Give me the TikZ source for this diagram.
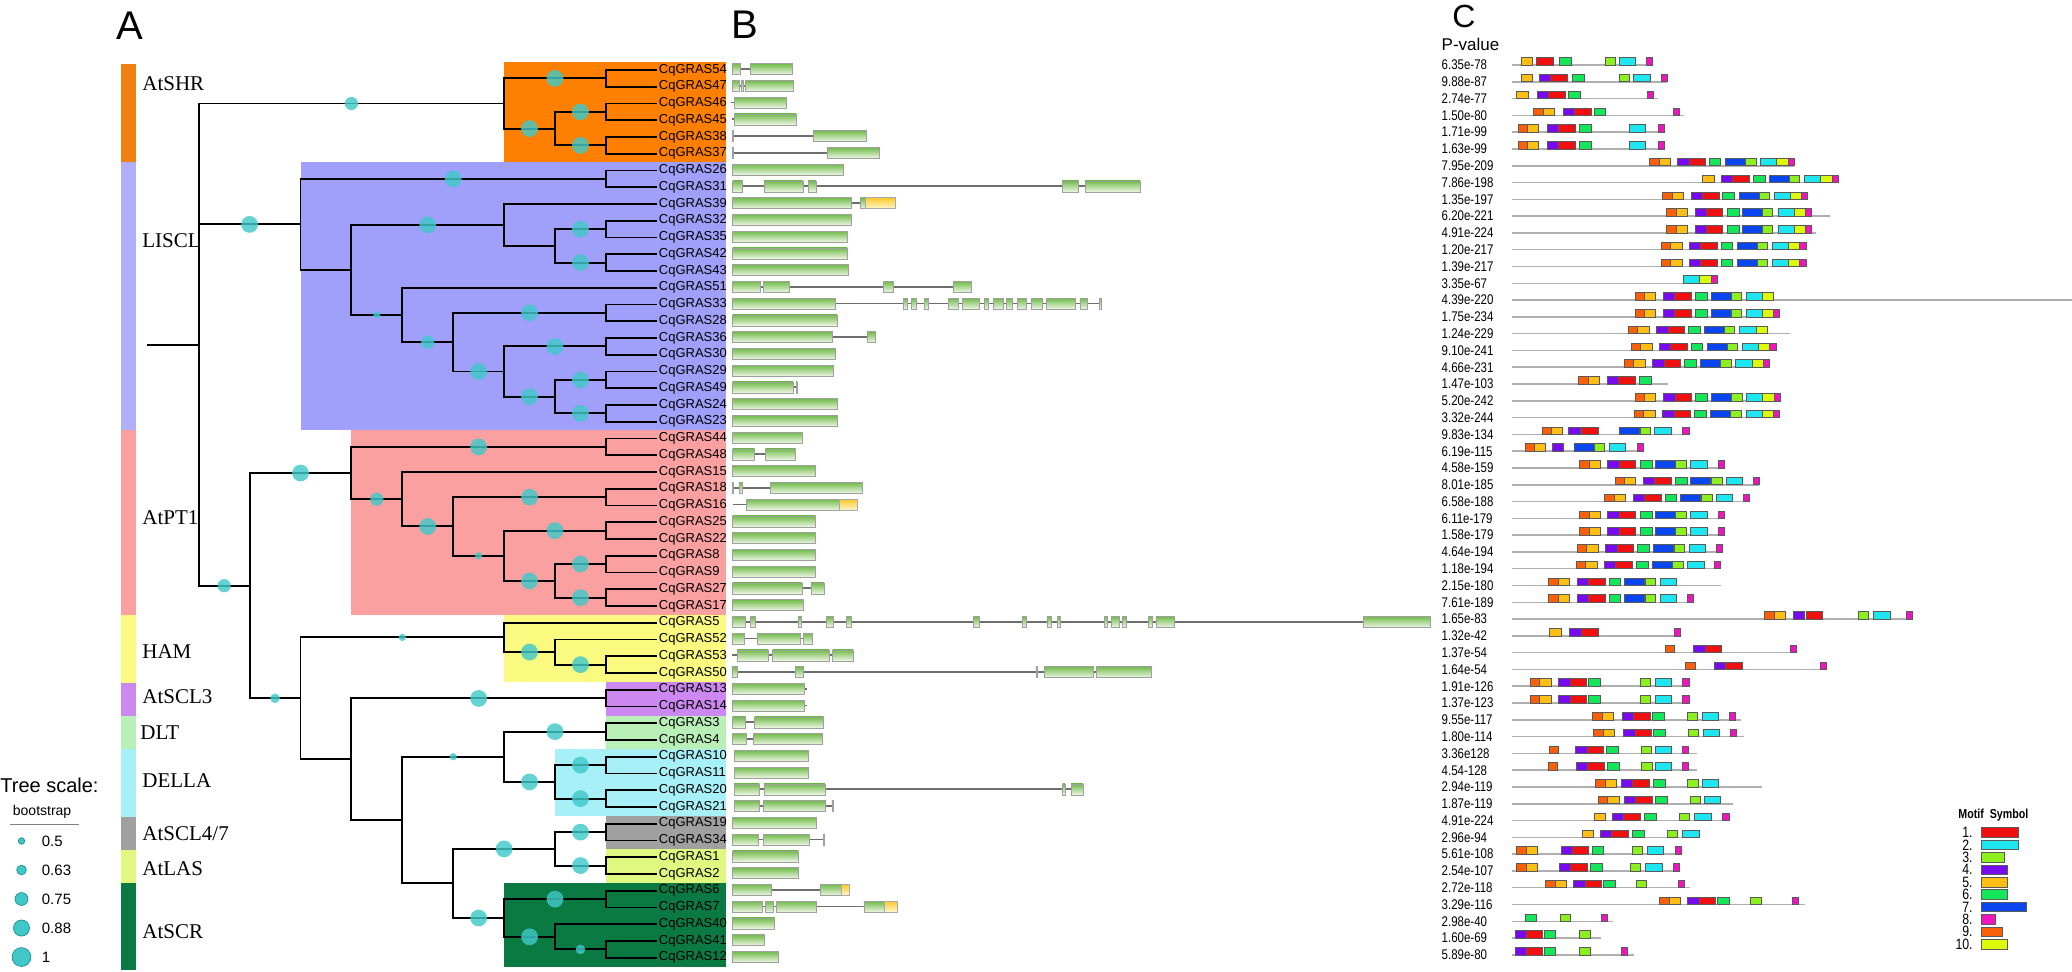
\documentclass[tikz,border=0pt]{standalone}
\usepackage{fontspec}
\setmainfont{Liberation Sans}
\newfontfamily\serifA{Liberation Serif}
\newfontfamily\narrowA[FakeStretch=0.82]{Liberation Sans}
\usetikzlibrary{calc}
\definecolor{cSHR}{RGB}{255,128,0}
\definecolor{cSHRbar}{RGB}{240,128,16}
\definecolor{cLIS}{RGB}{160,160,250}
\definecolor{cLISbar}{RGB}{176,176,250}
\definecolor{cPT}{RGB}{250,160,160}
\definecolor{cHAM}{RGB}{250,250,128}
\definecolor{cSCLt}{RGB}{204,136,240}
\definecolor{cDLT}{RGB}{184,240,184}
\definecolor{cDEL}{RGB}{168,240,248}
\definecolor{cSCLf}{RGB}{160,160,160}
\definecolor{cLAS}{RGB}{224,248,128}
\definecolor{cSCR}{RGB}{10,122,66}
\definecolor{bootc}{RGB}{64,200,200}
\definecolor{bootd}{RGB}{40,150,150}
\definecolor{exg}{RGB}{112,186,72}
\definecolor{exw}{RGB}{236,246,228}
\definecolor{uty}{RGB}{255,200,40}
\definecolor{utw}{RGB}{255,246,205}
\definecolor{intc}{RGB}{110,110,110}
\definecolor{mlc}{RGB}{175,175,175}
\definecolor{mot1}{RGB}{240,16,16}
\definecolor{mot2}{RGB}{30,230,240}
\definecolor{mot3}{RGB}{140,240,30}
\definecolor{mot4}{RGB}{120,10,240}
\definecolor{mot5}{RGB}{255,190,20}
\definecolor{mot6}{RGB}{20,230,90}
\definecolor{mot7}{RGB}{10,70,240}
\definecolor{mot8}{RGB}{240,20,190}
\definecolor{mot9}{RGB}{250,95,10}
\definecolor{mot10}{RGB}{220,250,10}
\newcommand\lv[1]{(198.7+50.9*#1)}
\newcommand\ed[2]{\draw[tree] (#1) |- (#2);}
\newcommand\bsc[3]{\fill[boot] ($(#1 |- #2)!0.5!(#2)$) circle (#3);}
\newcommand\gl[3]{\draw[intron] (#2,{70+16.75*#1-1}) -- (#3,{70+16.75*#1-1});}
\newcommand\exs[2]{\foreach \a/\b in {#2}{\path[exon] (\a,{70+16.75*#1-6.5}) rectangle (\b,{70+16.75*#1+4.5});}}
\newcommand\uts[2]{\foreach \a/\b in {#2}{\path[utr] (\a,{70+16.75*#1-6.5}) rectangle (\b,{70+16.75*#1+4.5});}}
\newcommand\mrow[3]{\draw[mline] (280,{65+16.79*#1}) -- (#2,{65+16.79*#1});
 \foreach \m/\s in {#3}{\pgfmathtruncatemacro\k{\m-1}\pgfmathsetmacro\w{{38,38,24,26,26,27,46,14,22,26}[\k]}%
 \path[mbox,fill=mot\m] (\s,{65+16.79*#1-7.5}) rectangle ({\s+\w},{65+16.79*#1});}}
\begin{document}
\begin{tikzpicture}[x=0.5pt,y=-0.5pt,
  tree/.style={line width=0.95pt,black},
  boot/.style={bootc,opacity=0.82},
  glab/.style={anchor=west,inner sep=0pt,font=\fontsize{6.5}{7}\selectfont},
  clab/.style={anchor=west,inner sep=0pt,font=\serifA\fontsize{10.5}{12}\selectfont},
  plet/.style={inner sep=0pt,font=\fontsize{20}{22}\selectfont},
  intron/.style={intc,line width=0.9pt},
  exon/.style={top color=exg,bottom color=exw,draw={rgb,255:red,160;green,160;blue,160},line width=0.25pt},
  utr/.style={top color=uty,bottom color=utw,draw={rgb,255:red,170;green,170;blue,170},line width=0.25pt},
  mline/.style={mlc,line width=0.75pt},
  mbox/.style={draw={rgb,255:red,90;green,90;blue,90},line width=0.3pt},
  pval/.style={anchor=west,inner sep=0pt,font=\narrowA\fontsize{7}{8}\selectfont},
  legc/.style={fill=bootc,draw=bootd,line width=0.4pt}]
\useasboundingbox (0,0) rectangle (2072,971);
% ---------- panel letters
\node[plet] (LA) at (130,26) {A};
\node[plet] (LB) at (745,25) {B};
\node[inner sep=0pt,font=\fontsize{16}{18}\selectfont] (LC) at (1464,16) {C};
% ---------- clade backgrounds
\fill[cSHR] (503.6,61.7) rectangle (726,162.3);
\fill[cLIS] (300.5,162.3) rectangle (726,430);
\fill[cPT] (351.4,430) rectangle (726,615);
\fill[cHAM] (503.6,615) rectangle (726,682.3);
\fill[cSCLt] (605.9,682.3) rectangle (726,716);
\fill[cDLT] (605.9,716) rectangle (726,749.3);
\fill[cDEL] (555,749.3) rectangle (726,816);
\fill[cSCLf] (605.9,816) rectangle (726,849.3);
\fill[cLAS] (605.9,849.3) rectangle (726,883.3);
\fill[cSCR] (503.6,883.3) rectangle (726,966.7);
% ---------- left bar
\fill[cSHRbar] (121.4,64.3) rectangle (136.2,162.3);
\fill[cLISbar] (121.4,162.3) rectangle (136.2,430);
\fill[cPT] (121.4,430) rectangle (136.2,615);
\fill[cHAM] (121.4,615) rectangle (136.2,683);
\fill[cSCLt] (121.4,683) rectangle (136.2,716);
\fill[cDLT] (121.4,716) rectangle (136.2,749.3);
\fill[cDEL] (121.4,749.3) rectangle (136.2,816.5);
\fill[cSCLf] (121.4,816.5) rectangle (136.2,849.5);
\fill[cLAS] (121.4,849.5) rectangle (136.2,883);
\fill[cSCR] (121.4,883) rectangle (136.2,970);
\node[clab] (kSHR) at (142,84) {AtSHR};
\node[clab] (kLIS) at (142,240.7) {LISCL};
\node[clab] (kPT) at (142,517.7) {AtPT1};
\node[clab] (kHAM) at (142,651.7) {HAM};
\node[clab] (kSCL3) at (142,697) {AtSCL3};
\node[clab] (kDLT) at (140,732.7) {DLT};
\node[clab] (kDEL) at (142,781) {DELLA};
\node[clab] (kSCL47) at (142,834) {AtSCL4/7};
\node[clab] (kLAS) at (142,869) {AtLAS};
\node[clab] (kSCR) at (142,932) {AtSCR};
% ---------- tree coordinates
\coordinate (rs) at (147,344.6);
\coordinate (r) at ({\lv{0}},344.6);
\coordinate (SHR) at ({\lv{6}},103.5);
\coordinate (s1) at ({\lv{8}},78.4);
\coordinate (s2) at ({\lv{7}},128.6);
\coordinate (s3) at ({\lv{8}},111.9);
\coordinate (s4) at ({\lv{8}},145.4);
\coordinate (LIS) at ({\lv{2}},224.4);
\coordinate (l1) at ({\lv{8}},178.9);
\coordinate (l2) at ({\lv{3}},270);
\coordinate (l3) at ({\lv{6}},224.9);
\coordinate (l45) at ({\lv{7}},245.9);
\coordinate (l4) at ({\lv{8}},229.1);
\coordinate (l5) at ({\lv{8}},262.6);
\coordinate (l6) at ({\lv{4}},315);
\coordinate (l7) at ({\lv{5}},342.2);
\coordinate (l8) at ({\lv{8}},312.9);
\coordinate (l9) at ({\lv{6}},371.5);
\coordinate (l10) at ({\lv{8}},346.4);
\coordinate (l11) at ({\lv{7}},396.6);
\coordinate (l12) at ({\lv{8}},379.9);
\coordinate (l13) at ({\lv{8}},413.4);
\coordinate (B1) at ({\lv{1}},585.7);
\coordinate (P) at ({\lv{3}},473);
\coordinate (p1) at ({\lv{8}},446.9);
\coordinate (p2) at ({\lv{4}},499.2);
\coordinate (p3) at ({\lv{5}},526.4);
\coordinate (p4) at ({\lv{8}},497.1);
\coordinate (p5) at ({\lv{6}},555.75);
\coordinate (p6) at ({\lv{8}},530.6);
\coordinate (p7) at ({\lv{7}},580.9);
\coordinate (p8) at ({\lv{8}},564.1);
\coordinate (p9) at ({\lv{8}},597.6);
\coordinate (B2) at ({\lv{2}},698.3);
\coordinate (H) at ({\lv{6}},637.4);
\coordinate (h1) at ({\lv{7}},652.1);
\coordinate (h2) at ({\lv{8}},664.6);
\coordinate (C2) at ({\lv{3}},759.2);
\coordinate (c3) at ({\lv{8}},698.4);
\coordinate (C4) at ({\lv{4}},820);
\coordinate (D) at ({\lv{6}},756.7);
\coordinate (d1) at ({\lv{8}},731.6);
\coordinate (d2) at ({\lv{7}},781.9);
\coordinate (d3) at ({\lv{8}},765.1);
\coordinate (d4) at ({\lv{8}},798.6);
\coordinate (E) at ({\lv{5}},883.4);
\coordinate (e1) at ({\lv{7}},848.9);
\coordinate (e11) at ({\lv{8}},832.1);
\coordinate (e12) at ({\lv{8}},865.6);
\coordinate (e2) at ({\lv{6}},918);
\coordinate (e21) at ({\lv{8}},899.1);
\coordinate (e22) at ({\lv{7}},936.8);
\coordinate (e23) at ({\lv{8}},949.4);
\foreach \i in {0,...,53} \coordinate (t\i) at ({\lv{9}},{70+16.75*\i});
% ---------- tree edges
\draw[tree] (rs) -- (r);
\ed{r}{SHR}\ed{r}{LIS}\ed{r}{B1}
\ed{SHR}{s1}\ed{SHR}{s2}\ed{s2}{s3}\ed{s2}{s4}
\ed{s1}{t0}\ed{s1}{t1}\ed{s3}{t2}\ed{s3}{t3}\ed{s4}{t4}\ed{s4}{t5}
\ed{LIS}{l1}\ed{LIS}{l2}\ed{l1}{t6}\ed{l1}{t7}
\ed{l2}{l3}\ed{l2}{l6}\ed{l3}{t8}\ed{l3}{l45}\ed{l45}{l4}\ed{l45}{l5}
\ed{l4}{t9}\ed{l4}{t10}\ed{l5}{t11}\ed{l5}{t12}
\ed{l6}{t13}\ed{l6}{l7}\ed{l7}{l8}\ed{l7}{l9}\ed{l8}{t14}\ed{l8}{t15}
\ed{l9}{l10}\ed{l9}{l11}\ed{l10}{t16}\ed{l10}{t17}\ed{l11}{l12}\ed{l11}{l13}
\ed{l12}{t18}\ed{l12}{t19}\ed{l13}{t20}\ed{l13}{t21}
\ed{B1}{P}\ed{B1}{B2}
\ed{P}{p1}\ed{P}{p2}\ed{p1}{t22}\ed{p1}{t23}\ed{p2}{t24}\ed{p2}{p3}
\ed{p3}{p4}\ed{p3}{p5}\ed{p4}{t25}\ed{p4}{t26}\ed{p5}{p6}\ed{p5}{p7}
\ed{p6}{t27}\ed{p6}{t28}\ed{p7}{p8}\ed{p7}{p9}\ed{p8}{t29}\ed{p8}{t30}\ed{p9}{t31}\ed{p9}{t32}
\ed{B2}{H}\ed{B2}{C2}\ed{H}{t33}\ed{H}{h1}\ed{h1}{t34}\ed{h1}{h2}\ed{h2}{t35}\ed{h2}{t36}
\ed{C2}{c3}\ed{C2}{C4}\ed{c3}{t37}\ed{c3}{t38}
\ed{C4}{D}\ed{C4}{E}\ed{D}{d1}\ed{D}{d2}\ed{d1}{t39}\ed{d1}{t40}\ed{d2}{d3}\ed{d2}{d4}
\ed{d3}{t41}\ed{d3}{t42}\ed{d4}{t43}\ed{d4}{t44}
\ed{E}{e1}\ed{E}{e2}\ed{e1}{e11}\ed{e1}{e12}\ed{e11}{t45}\ed{e11}{t46}\ed{e12}{t47}\ed{e12}{t48}
\ed{e2}{e21}\ed{e2}{e22}\ed{e21}{t49}\ed{e21}{t50}\ed{e22}{t51}\ed{e22}{e23}\ed{e23}{t52}\ed{e23}{t53}
% ---------- bootstrap circles
\def\cB{4.2pt}\def\cM{3.3pt}\def\cSM{2.4pt}\def\cS{1.8pt}
\bsc{r}{SHR}{\cM}\bsc{SHR}{s1}{\cB}\bsc{SHR}{s2}{\cB}\bsc{s2}{s3}{\cB}\bsc{s2}{s4}{\cB}
\bsc{r}{LIS}{\cB}\bsc{LIS}{l1}{\cB}\bsc{l2}{l3}{\cB}\bsc{l45}{l4}{\cB}\bsc{l45}{l5}{\cB}
\bsc{l2}{l6}{\cS}\bsc{l6}{l7}{\cM}\bsc{l7}{l8}{\cB}\bsc{l7}{l9}{\cB}\bsc{l9}{l10}{\cB}
\bsc{l9}{l11}{\cB}\bsc{l11}{l12}{\cB}\bsc{l11}{l13}{\cB}
\bsc{r}{B1}{\cM}\bsc{B1}{P}{\cB}\bsc{P}{p1}{\cB}\bsc{P}{p2}{\cM}\bsc{p2}{p3}{\cB}
\bsc{p3}{p4}{\cB}\bsc{p3}{p5}{\cS}\bsc{p5}{p6}{\cB}\bsc{p5}{p7}{\cB}\bsc{p7}{p8}{\cB}\bsc{p7}{p9}{\cB}
\bsc{B1}{B2}{\cSM}\bsc{B2}{H}{\cS}\bsc{H}{h1}{\cB}\bsc{h1}{h2}{\cB}\bsc{C2}{c3}{\cB}
\bsc{C4}{D}{\cS}\bsc{D}{d1}{\cB}\bsc{D}{d2}{\cB}\bsc{d2}{d3}{\cB}\bsc{d2}{d4}{\cB}
\bsc{E}{e1}{\cB}\bsc{e1}{e11}{\cB}\bsc{e1}{e12}{\cB}\bsc{E}{e2}{\cB}\bsc{e2}{e21}{\cB}
\bsc{e2}{e22}{\cB}\bsc{e22}{e23}{\cSM}
% ---------- gene labels
\foreach \g [count=\i from 0] in {54,47,46,45,38,37,26,31,39,32,35,42,43,51,33,28,36,30,29,49,24,23,44,48,15,18,16,25,22,8,9,27,17,5,52,53,50,13,14,3,4,10,11,20,21,19,34,1,2,6,7,40,41,12}
  \node[glab] (g\i) at ([xshift=0.85pt]t\i) {CqGRAS\g};
% ---------- tree scale legend
\node[anchor=west,inner sep=0pt,font=\fontsize{10}{11}\selectfont] (ts) at (0,785) {Tree scale:};
\node[anchor=west,inner sep=0pt,font=\fontsize{7}{8}\selectfont] (bs) at (12.5,812) {bootstrap};
\draw[gray,line width=0.5pt] (10,824) -- (79,824);
\foreach \v/\rr [count=\j from 0] in {0.5/1.6pt,0.63/2.4pt,0.75/3.2pt,0.88/4pt,1/4.7pt}{
  \fill[legc] (21.5,{841+29*\j}) circle (\rr);
  \node[anchor=west,inner sep=0pt,font=\fontsize{7.5}{8}\selectfont] (lv\j) at (41.5,{841+29*\j}) {\v};}
% ---------- panel B gene structures
\begin{scope}[shift={(680,0)},xscale=0.4464]
\gl{0}{118}{252}\exs{0}{118/135,157/252}
\gl{1}{118}{254}\exs{1}{118/133,137/141,147/254}
\gl{2}{115}{238}\exs{2}{122/238}
\gl{3}{116}{260}\exs{3}{122/260}
\gl{4}{118}{417}\exs{4}{117/120,299/417}
\gl{5}{118}{447}\exs{5}{117/120,329/447}
\exs{6}{118/365}
\gl{7}{118}{1031}\exs{7}{118/140,188/276,287/305,856/893,907/1031}
\gl{8}{118}{482}\exs{8}{118/383,403/415}\uts{8}{415/482}
\exs{9}{118/383}
\exs{10}{118/375}
\exs{11}{118/375}
\exs{12}{118/377}
\gl{13}{118}{652}\exs{13}{118/179,187/244,456/478,611/652}
\gl{14}{118}{942}\exs{14}{118/347,501/509,519/529,548/557,602/624,632/671,681/691,702/723,731/745,756/775,786/811,821/885,896/912,940/943}
\exs{15}{118/352}
\gl{16}{118}{438}\exs{16}{118/340,420/438}
\exs{17}{118/348}
\exs{18}{118/343}
\gl{19}{118}{262}\exs{19}{118/253,260/263}
\exs{20}{118/352}
\exs{21}{118/352}
\exs{22}{118/273}
\gl{23}{118}{259}\exs{23}{118/167,191/259}
\exs{24}{118/304}
\gl{25}{118}{408}\exs{25}{117/120,132/140,202/408}
\gl{26}{118}{396}\exs{26}{148/356}\uts{26}{356/396}
\exs{27}{118/304}
\exs{28}{118/304}
\exs{29}{118/303}
\exs{30}{118/302}
\gl{31}{118}{323}\exs{31}{118/273,293/323}
\exs{32}{118/277}
\gl{33}{116}{1680}\exs{33}{116/147,158/168,264/272,328/344,372/383,658/671,766/775,822/832,846/852,950/957,967/983,991/1000,1050/1058,1066/1108,1530/1680}
\gl{34}{116}{297}\exs{34}{116/143,172/270,277/297}
\gl{35}{116}{388}\exs{35}{128/197,207/334,342/388}
\gl{36}{116}{1055}\exs{36}{116/128,258/276,797/801,816/925,932/1055}
\gl{37}{118}{285}\exs{37}{118/278}
\gl{38}{118}{285}\exs{38}{118/278}
\gl{39}{118}{322}\exs{39}{118/147,167/322}
\gl{40}{118}{318}\exs{40}{118/149,165/318}
\exs{41}{121/287}
\exs{42}{121/288}
\gl{43}{121}{903}\exs{43}{121/178,188/325,857/862,876/903}
\gl{44}{121}{343}\exs{44}{121/178,187/326,340/343}
\exs{45}{118/306}
\gl{46}{118}{324}\exs{46}{118/176,187/289,321/324}
\exs{47}{118/265}
\exs{48}{118/264}
\gl{49}{116}{380}\exs{49}{116/205,315/361}\uts{49}{361/380}
\gl{50}{116}{486}\exs{50}{116/184,191/209,215/306,412/458}\uts{50}{458/486}
\exs{51}{116/212}
\exs{52}{118/188}
\exs{53}{116/221}
\end{scope}
% ---------- panel C motifs
\begin{scope}[shift={(1390,0)},xscale=0.43497]
\node[anchor=west,inner sep=0pt,font=\fontsize{8.5}{9}\selectfont] (pvh) at (118,44) {P-value};
\foreach \p [count=\i from 0] in {6.35e-78,9.88e-87,2.74e-77,1.50e-80,1.71e-99,1.63e-99,7.95e-209,7.86e-198,1.35e-197,6.20e-221,4.91e-224,1.20e-217,1.39e-217,3.35e-67,4.39e-220,1.75e-234,1.24e-229,9.10e-241,4.66e-231,1.47e-103,5.20e-242,3.32e-244,9.83e-134,6.19e-115,4.58e-159,8.01e-185,6.58e-188,6.11e-179,1.58e-179,4.64e-194,1.18e-194,2.15e-180,7.61e-189,1.65e-83,1.32e-42,1.37e-54,1.64e-54,1.91e-126,1.37e-123,9.55e-117,1.80e-114,3.36e128,4.54-128,2.94e-119,1.87e-119,4.91e-224,2.96e-94,5.61e-108,2.54e-107,2.72e-118,3.29e-116,2.98e-40,1.60e-69,5.89e-80}
  \node[pval] (pv\i) at (118,{65+16.79*\i}) {\p};
\mrow{0}{604}{5/302,1/337,6/389,3/494,2/527,8/590}
\mrow{1}{637}{5/302,4/343,1/369,6/419,3/527,2/560,8/623}
\mrow{2}{615}{5/291,4/339,1/365,6/410,8/591}
\mrow{3}{676}{9/330,5/352,4/398,1/424,6/469,8/651}
\mrow{4}{631}{9/294,5/316,4/362,1/388,6/435,2/549,8/616}
\mrow{5}{631}{9/294,5/316,4/362,1/388,6/435,2/549,8/616}
\mrow{6}{929}{9/597,5/619,4/661,1/687,6/733,7/771,3/817,2/852,10/889,8/915}
\mrow{7}{1030}{5/719,4/762,1/788,6/835,7/871,3/917,2/953,10/990,8/1016}
\mrow{8}{960}{9/626,5/648,4/692,1/718,6/765,7/802,3/848,2/883,10/920,8/946}
\mrow{9}{1012}{9/636,5/658,4/701,1/727,6/775,7/810,3/856,2/892,10/929,8/955}
\mrow{10}{980}{9/636,5/658,4/701,1/727,6/775,7/810,3/856,2/892,10/929,8/955}
\mrow{11}{956}{9/623,5/645,4/688,1/714,6/761,7/798,3/844,2/879,10/916,8/942}
\mrow{12}{956}{9/623,5/645,4/688,1/714,6/761,7/798,3/844,2/879,10/916,8/942}
\mrow{13}{752}{2/675,10/712,8/738}
\mrow{14}{1568}{9/563,5/585,4/628,1/654,6/702,7/738,3/784,2/819,10/856}
\mrow{15}{896}{9/563,5/585,4/628,1/654,6/702,7/738,3/784,2/819,10/856,8/882}
\mrow{16}{920}{9/547,5/569,4/613,1/639,6/686,7/722,3/768,2/804,10/841}
\mrow{17}{887}{9/554,5/576,4/619,1/645,6/692,7/729,3/775,2/810,10/847,8/873}
\mrow{18}{872}{9/538,5/560,4/604,1/630,6/677,7/713,3/760,2/794,10/832,8/858}
\mrow{19}{638}{9/433,5/456,4/499,1/525,6/573}
\mrow{20}{897}{9/563,5/585,4/629,1/655,6/702,7/738,3/785,2/820,10/857,8/883}
\mrow{21}{895}{9/561,5/583,4/627,1/653,6/700,7/737,3/783,2/818,10/855,8/881}
\mrow{22}{687}{9/349,5/371,4/411,1/440,7/528,3/575,2/608,8/673}
\mrow{23}{583}{9/310,5/332,4/372,7/423,3/469,2/504,8/568}
\mrow{24}{768}{9/436,5/458,4/500,1/527,6/575,7/609,3/657,2/691,8/754}
\mrow{25}{849}{9/517,5/539,4/582,1/608,6/656,7/691,3/739,2/773,8/835}
\mrow{26}{826}{9/493,5/515,4/559,1/585,6/632,7/668,3/716,2/750,8/812}
\mrow{27}{768}{9/436,5/458,4/500,1/527,6/575,7/609,3/657,2/691,8/754}
\mrow{28}{768}{9/436,5/458,4/500,1/527,6/575,7/609,3/657,2/691,8/754}
\mrow{29}{763}{9/430,5/452,4/496,1/522,6/569,7/606,3/653,2/687,8/749}
\mrow{30}{760}{9/428,5/450,4/493,1/519,6/567,7/603,3/650,2/684,8/746}
\mrow{31}{762}{9/364,5/386,4/430,1/456,6/503,7/539,3/586,2/621}
\mrow{32}{698}{9/364,5/386,4/430,1/456,6/503,7/539,3/586,2/621,8/684}
\mrow{33}{1200}{9/861,5/883,4/926,1/956,3/1076,2/1112,8/1186}
\mrow{34}{654}{5/367,4/413,1/440,8/654}
\mrow{35}{934}{9/632,4/698,1/724,8/920}
\mrow{36}{1004}{9/680,4/745,1/771,8/990}
\mrow{37}{688}{9/322,5/344,4/388,1/414,6/456,3/575,2/609,8/673}
\mrow{38}{688}{9/322,5/344,4/388,1/414,6/456,3/575,2/609,8/673}
\mrow{39}{808}{9/465,5/487,4/534,1/560,6/603,3/683,2/717,8/780}
\mrow{40}{813}{9/468,5/490,4/537,1/563,6/605,3/685,2/720,8/783}
\mrow{41}{705}{9/366,4/427,1/453,6/498,3/577,2/609,8/671}
\mrow{42}{705}{9/363,4/428,1/454,6/499,3/578,2/609,8/672}
\mrow{43}{856}{9/473,5/495,4/532,1/558,6/605,3/684,2/717}
\mrow{44}{789}{9/478,5/500,4/538,1/564,6/610,3/690,2/722}
\mrow{45}{779}{5/470,4/511,1/537,6/585,3/665,2/700,8/765}
\mrow{46}{713}{5/442,4/483,1/509,6/557,3/637,2/672}
\mrow{47}{669}{9/291,5/313,4/393,1/419,6/464,3/556,2/591,8/655}
\mrow{48}{666}{9/291,5/313,4/389,1/415,6/460,3/552,2/587,8/652}
\mrow{49}{690}{9/357,5/379,4/422,1/448,6/490,3/566,8/663}
\mrow{50}{953}{9/619,5/641,4/684,1/710,6/752,3/829,8/925}
\mrow{51}{513}{6/310,3/391,8/485}
\mrow{52}{486}{4/287,1/313,6/354,3/436}
\mrow{53}{560}{4/287,1/313,6/354,3/436,8/531}
\end{scope}
% ---------- motif legend
\node[anchor=west,inner sep=0pt,font=\narrowA\bfseries\fontsize{6.5}{7}\selectfont] (mleg) at (1958,815) {Motif\ \ Symbol};
\foreach \k/\w in {1/37,2/37,3/23,4/26,5/26,6/26,7/45,8/14,9/21,10/26}{
  \node[anchor=east,inner sep=0pt,font=\narrowA\fontsize{7.5}{8}\selectfont] (mn\k) at (1973,{832.5+12.4*(\k-1)}) {\k.};
  \path[mbox,fill=mot\k] (1981.6,{832.5+12.4*(\k-1)-4.8}) rectangle ({1981.6+\w},{832.5+12.4*(\k-1)+4.8});}
\end{tikzpicture}
\end{document}
